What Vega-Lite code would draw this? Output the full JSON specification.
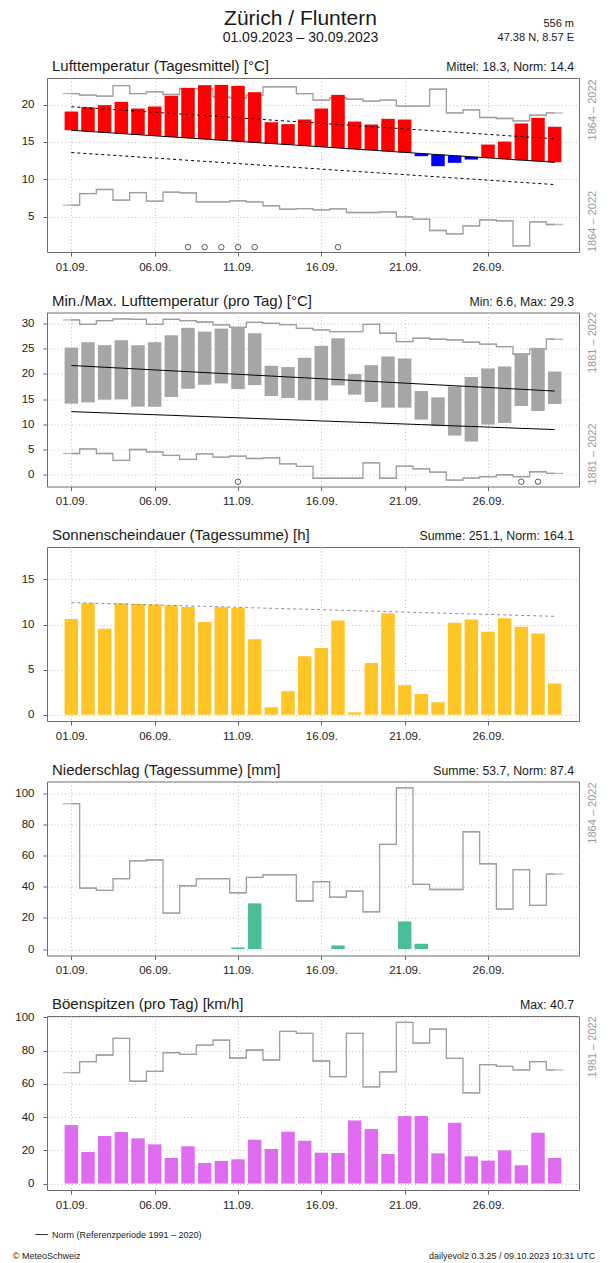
{
  "$schema": "https://vega.github.io/schema/vega-lite/v6.json",
  "autosize": {"type": "pad"},
  "padding": {"left": 12, "top": 7, "right": 3, "bottom": 2},
  "background": "white",
  "config": {
    "font": "Liberation Sans",
    "view": {"stroke": "#6e6e6e", "strokeWidth": 1},
    "axis": {"tickSize": 4, "tickColor": "#666666", "domain": false, "labelFontSize": 11.5, "labelColor": "#222222", "labelFont": "Liberation Sans", "gridColor": "#c4c4c4", "gridDash": [1, 2.5], "gridWidth": 1},
    "axisX": {"labelPadding": 5},
    "axisY": {"labelPadding": 9}
  },
  "datasets": {
    "days": [
      {"day": 1, "tmean": 19.06, "tnorm": 16.55, "thi": 19.70, "tlo": 13.57, "tmean_rmax": 21.47, "tmean_rmin": 6.52, "rec_mean": 0, "tmax": 25.2, "tmin": 14.08, "tmax_norm": 21.64, "tmin_norm": 12.50, "tmax_rmax": 30.66, "tmin_rmin": 4.21, "rec_max": 0, "sun": 10.61, "sun_max": 12.43, "precip": 0, "precip_rmax": 93.2, "gust": 35.2, "gust_rmax": 66.8},
      {"day": 2, "tmean": 19.64, "tnorm": 16.40, "thi": 19.55, "tlo": 13.42, "tmean_rmax": 21.25, "tmean_rmin": 8.08, "rec_mean": 0, "tmax": 26.25, "tmin": 14.34, "tmax_norm": 21.47, "tmin_norm": 12.38, "tmax_rmax": 29.8, "tmin_rmin": 5.13, "rec_max": 0, "sun": 12.36, "sun_max": 12.38, "precip": 0, "precip_rmax": 39.1, "gust": 19.0, "gust_rmax": 73.4},
      {"day": 3, "tmean": 19.91, "tnorm": 16.25, "thi": 19.40, "tlo": 13.27, "tmean_rmax": 21.12, "tmean_rmin": 8.62, "rec_mean": 0, "tmax": 25.66, "tmin": 14.87, "tmax_norm": 21.29, "tmin_norm": 12.26, "tmax_rmax": 30.53, "tmin_rmin": 4.21, "rec_max": 0, "sun": 9.53, "sun_max": 12.33, "precip": 0, "precip_rmax": 37.6, "gust": 28.6, "gust_rmax": 77.4},
      {"day": 4, "tmean": 20.36, "tnorm": 16.11, "thi": 19.26, "tlo": 13.13, "tmean_rmax": 22.54, "tmean_rmin": 7.19, "rec_mean": 0, "tmax": 26.64, "tmin": 14.93, "tmax_norm": 21.12, "tmin_norm": 12.13, "tmax_rmax": 30.86, "tmin_rmin": 2.83, "rec_max": 0, "sun": 12.36, "sun_max": 12.27, "precip": 0, "precip_rmax": 45.1, "gust": 31.0, "gust_rmax": 87.4},
      {"day": 5, "tmean": 19.46, "tnorm": 15.96, "thi": 19.11, "tlo": 12.98, "tmean_rmax": 21.47, "tmean_rmin": 8.21, "rec_mean": 0, "tmax": 25.66, "tmin": 13.49, "tmax_norm": 20.94, "tmin_norm": 12.01, "tmax_rmax": 30.79, "tmin_rmin": 5.0, "rec_max": 0, "sun": 12.29, "sun_max": 12.22, "precip": 0, "precip_rmax": 56.6, "gust": 27.2, "gust_rmax": 61.6},
      {"day": 6, "tmean": 19.73, "tnorm": 15.81, "thi": 18.96, "tlo": 12.83, "tmean_rmax": 21.70, "tmean_rmin": 7.05, "rec_mean": 0, "tmax": 26.25, "tmin": 13.49, "tmax_norm": 20.77, "tmin_norm": 11.89, "tmax_rmax": 29.8, "tmin_rmin": 4.54, "rec_max": 0, "sun": 12.21, "sun_max": 12.17, "precip": 0, "precip_rmax": 57.1, "gust": 23.6, "gust_rmax": 67.6},
      {"day": 7, "tmean": 21.16, "tnorm": 15.66, "thi": 18.81, "tlo": 12.68, "tmean_rmax": 21.34, "tmean_rmin": 8.26, "rec_mean": 0, "tmax": 27.63, "tmin": 15.39, "tmax_norm": 20.59, "tmin_norm": 11.77, "tmax_rmax": 30.79, "tmin_rmin": 3.82, "rec_max": 0, "sun": 12.10, "sun_max": 12.12, "precip": 0, "precip_rmax": 23.1, "gust": 15.4, "gust_rmax": 78.8},
      {"day": 8, "tmean": 22.23, "tnorm": 15.51, "thi": 18.66, "tlo": 12.53, "tmean_rmax": 22.14, "tmean_rmin": 8.17, "rec_mean": 1, "tmax": 29.1, "tmin": 17.04, "tmax_norm": 20.42, "tmin_norm": 11.64, "tmax_rmax": 30.53, "tmin_rmin": 3.03, "rec_max": 0, "sun": 11.95, "sun_max": 12.06, "precip": 0, "precip_rmax": 40.6, "gust": 22.4, "gust_rmax": 77.8},
      {"day": 9, "tmean": 22.59, "tnorm": 15.37, "thi": 18.52, "tlo": 12.39, "tmean_rmax": 22.14, "tmean_rmin": 6.96, "rec_mean": 1, "tmax": 28.36, "tmin": 17.83, "tmax_norm": 20.24, "tmin_norm": 11.52, "tmax_rmax": 30.26, "tmin_rmin": 4.14, "rec_max": 0, "sun": 10.28, "sun_max": 12.01, "precip": 0, "precip_rmax": 45.1, "gust": 12.4, "gust_rmax": 83.4},
      {"day": 10, "tmean": 22.63, "tnorm": 15.22, "thi": 18.37, "tlo": 12.24, "tmean_rmax": 21.03, "tmean_rmin": 6.96, "rec_mean": 1, "tmax": 28.95, "tmin": 18.09, "tmax_norm": 20.07, "tmin_norm": 11.40, "tmax_rmax": 29.7, "tmin_rmin": 3.49, "rec_max": 0, "sun": 11.91, "sun_max": 11.96, "precip": 0, "precip_rmax": 45.1, "gust": 13.6, "gust_rmax": 86.4},
      {"day": 11, "tmean": 22.5, "tnorm": 15.07, "thi": 18.22, "tlo": 12.09, "tmean_rmax": 20.85, "tmean_rmin": 7.10, "rec_mean": 1, "tmax": 29.3, "tmin": 16.97, "tmax_norm": 19.90, "tmin_norm": 11.28, "tmax_rmax": 29.2, "tmin_rmin": 3.68, "rec_max": 1, "sun": 11.84, "sun_max": 11.91, "precip": 1.0, "precip_rmax": 36.1, "gust": 14.6, "gust_rmax": 75.6},
      {"day": 12, "tmean": 21.65, "tnorm": 14.92, "thi": 18.07, "tlo": 11.94, "tmean_rmax": 21.25, "tmean_rmin": 6.96, "rec_mean": 1, "tmax": 28.03, "tmin": 17.76, "tmax_norm": 19.72, "tmin_norm": 11.15, "tmax_rmax": 30.2, "tmin_rmin": 3.22, "rec_max": 0, "sun": 8.38, "sun_max": 11.85, "precip": 29.3, "precip_rmax": 45.9, "gust": 26.4, "gust_rmax": 80.4},
      {"day": 13, "tmean": 17.63, "tnorm": 14.77, "thi": 17.92, "tlo": 11.79, "tmean_rmax": 22.37, "tmean_rmin": 6.43, "rec_mean": 0, "tmax": 21.58, "tmin": 15.59, "tmax_norm": 19.55, "tmin_norm": 11.03, "tmax_rmax": 30.0, "tmin_rmin": 3.36, "rec_max": 0, "sun": 0.82, "sun_max": 11.80, "precip": 0, "precip_rmax": 47.6, "gust": 20.8, "gust_rmax": 74.4},
      {"day": 14, "tmean": 17.37, "tnorm": 14.63, "thi": 17.78, "tlo": 11.65, "tmean_rmax": 22.37, "tmean_rmin": 5.98, "rec_mean": 0, "tmax": 21.32, "tmin": 15.2, "tmax_norm": 19.37, "tmin_norm": 10.91, "tmax_rmax": 29.74, "tmin_rmin": 2.17, "rec_max": 0, "sun": 2.61, "sun_max": 11.75, "precip": 0, "precip_rmax": 47.6, "gust": 31.2, "gust_rmax": 91.6},
      {"day": 15, "tmean": 17.99, "tnorm": 14.48, "thi": 17.63, "tlo": 11.50, "tmean_rmax": 21.47, "tmean_rmin": 6.07, "rec_mean": 0, "tmax": 23.16, "tmin": 14.74, "tmax_norm": 19.20, "tmin_norm": 10.79, "tmax_rmax": 29.0, "tmin_rmin": 1.65, "rec_max": 0, "sun": 6.48, "sun_max": 11.70, "precip": 0, "precip_rmax": 30.8, "gust": 25.8, "gust_rmax": 90.4},
      {"day": 16, "tmean": 19.46, "tnorm": 14.33, "thi": 17.48, "tlo": 11.35, "tmean_rmax": 20.58, "tmean_rmin": 5.89, "rec_mean": 0, "tmax": 25.53, "tmin": 14.74, "tmax_norm": 19.02, "tmin_norm": 10.66, "tmax_rmax": 28.7, "tmin_rmin": -0.7, "rec_max": 0, "sun": 7.41, "sun_max": 11.64, "precip": 0, "precip_rmax": 43.2, "gust": 18.6, "gust_rmax": 73.8},
      {"day": 17, "tmean": 21.29, "tnorm": 14.18, "thi": 17.33, "tlo": 11.20, "tmean_rmax": 20.9, "tmean_rmin": 6.03, "rec_mean": 1, "tmax": 27.04, "tmin": 17.7, "tmax_norm": 18.85, "tmin_norm": 10.54, "tmax_rmax": 28.36, "tmin_rmin": -0.7, "rec_max": 0, "sun": 10.46, "sun_max": 11.59, "precip": 2.3, "precip_rmax": 33.3, "gust": 18.4, "gust_rmax": 64.4},
      {"day": 18, "tmean": 17.72, "tnorm": 14.03, "thi": 17.18, "tlo": 11.05, "tmean_rmax": 20.71, "tmean_rmin": 5.54, "rec_mean": 0, "tmax": 19.93, "tmin": 15.86, "tmax_norm": 18.67, "tmin_norm": 10.42, "tmax_rmax": 28.36, "tmin_rmin": -0.7, "rec_max": 0, "sun": 0.26, "sun_max": 11.54, "precip": 0, "precip_rmax": 37.2, "gust": 38.0, "gust_rmax": 90.4},
      {"day": 19, "tmean": 17.32, "tnorm": 13.89, "thi": 17.04, "tlo": 10.91, "tmean_rmax": 20.45, "tmean_rmin": 5.54, "rec_mean": 0, "tmax": 21.71, "tmin": 14.41, "tmax_norm": 18.50, "tmin_norm": 10.30, "tmax_rmax": 29.8, "tmin_rmin": 2.37, "rec_max": 0, "sun": 5.73, "sun_max": 11.49, "precip": 0, "precip_rmax": 23.9, "gust": 32.8, "gust_rmax": 58.2},
      {"day": 20, "tmean": 18.08, "tnorm": 13.74, "thi": 16.89, "tlo": 10.76, "tmean_rmax": 20.58, "tmean_rmin": 5.63, "rec_mean": 0, "tmax": 23.42, "tmin": 13.29, "tmax_norm": 18.32, "tmin_norm": 10.17, "tmax_rmax": 28.03, "tmin_rmin": -0.7, "rec_max": 0, "sun": 11.24, "sun_max": 11.43, "precip": 0, "precip_rmax": 67.1, "gust": 17.8, "gust_rmax": 67.2},
      {"day": 21, "tmean": 17.99, "tnorm": 13.59, "thi": 16.74, "tlo": 10.61, "tmean_rmax": 19.78, "tmean_rmin": 4.96, "rec_mean": 0, "tmax": 23.03, "tmin": 13.29, "tmax_norm": 18.15, "tmin_norm": 10.05, "tmax_rmax": 26.38, "tmin_rmin": 1.71, "rec_max": 0, "sun": 3.28, "sun_max": 11.38, "precip": 17.7, "precip_rmax": 103.4, "gust": 40.6, "gust_rmax": 97.0},
      {"day": 22, "tmean": 13.08, "tnorm": 13.44, "thi": 16.59, "tlo": 10.46, "tmean_rmax": 19.78, "tmean_rmin": 4.64, "rec_mean": 0, "tmax": 16.58, "tmin": 10.92, "tmax_norm": 17.97, "tmin_norm": 9.93, "tmax_rmax": 27.04, "tmin_rmin": 1.18, "rec_max": 0, "sun": 2.31, "sun_max": 11.33, "precip": 3.4, "precip_rmax": 41.5, "gust": 40.7, "gust_rmax": 84.6},
      {"day": 23, "tmean": 11.74, "tnorm": 13.29, "thi": 16.44, "tlo": 10.31, "tmean_rmax": 22.05, "tmean_rmin": 3.13, "rec_mean": 0, "tmax": 15.33, "tmin": 9.61, "tmax_norm": 17.80, "tmin_norm": 9.81, "tmax_rmax": 26.84, "tmin_rmin": 0.53, "rec_max": 0, "sun": 1.38, "sun_max": 11.28, "precip": 0, "precip_rmax": 38.2, "gust": 18.2, "gust_rmax": 93.0},
      {"day": 24, "tmean": 12.19, "tnorm": 13.15, "thi": 16.30, "tlo": 10.17, "tmean_rmax": 18.88, "tmean_rmin": 2.68, "rec_mean": 0, "tmax": 17.5, "tmin": 7.76, "tmax_norm": 17.63, "tmin_norm": 9.68, "tmax_rmax": 26.71, "tmin_rmin": -1.05, "rec_max": 0, "sun": 10.20, "sun_max": 11.22, "precip": 0, "precip_rmax": 38.2, "gust": 36.6, "gust_rmax": 75.4},
      {"day": 25, "tmean": 12.63, "tnorm": 13.00, "thi": 16.15, "tlo": 10.02, "tmean_rmax": 19.29, "tmean_rmin": 3.75, "rec_mean": 0, "tmax": 19.34, "tmin": 6.6, "tmax_norm": 17.45, "tmin_norm": 9.56, "tmax_rmax": 26.25, "tmin_rmin": -0.66, "rec_max": 0, "sun": 10.57, "sun_max": 11.17, "precip": 0, "precip_rmax": 75.2, "gust": 16.4, "gust_rmax": 54.6},
      {"day": 26, "tmean": 14.64, "tnorm": 12.85, "thi": 16.00, "tlo": 9.87, "tmean_rmax": 18.26, "tmean_rmin": 4.55, "rec_mean": 0, "tmax": 21.05, "tmin": 9.93, "tmax_norm": 17.28, "tmin_norm": 9.44, "tmax_rmax": 25.86, "tmin_rmin": -0.39, "rec_max": 0, "sun": 9.20, "sun_max": 11.12, "precip": 0, "precip_rmax": 54.7, "gust": 13.8, "gust_rmax": 71.6},
      {"day": 27, "tmean": 15.04, "tnorm": 12.70, "thi": 15.85, "tlo": 9.72, "tmean_rmax": 18.13, "tmean_rmin": 4.42, "rec_mean": 0, "tmax": 21.45, "tmin": 10.26, "tmax_norm": 17.10, "tmin_norm": 9.32, "tmax_rmax": 25.39, "tmin_rmin": 0.0, "rec_max": 0, "sun": 10.69, "sun_max": 11.07, "precip": 0, "precip_rmax": 25.6, "gust": 20.0, "gust_rmax": 70.6},
      {"day": 28, "tmean": 17.46, "tnorm": 12.55, "thi": 15.70, "tlo": 9.57, "tmean_rmax": 17.81, "tmean_rmin": 1.07, "rec_mean": 0, "tmax": 24.08, "tmin": 13.62, "tmax_norm": 16.93, "tmin_norm": 9.19, "tmax_rmax": 23.88, "tmin_rmin": -0.39, "rec_max": 1, "sun": 9.75, "sun_max": 11.01, "precip": 0, "precip_rmax": 50.9, "gust": 11.0, "gust_rmax": 68.4},
      {"day": 29, "tmean": 18.21, "tnorm": 12.41, "thi": 15.56, "tlo": 9.43, "tmean_rmax": 18.57, "tmean_rmin": 4.29, "rec_mean": 0, "tmax": 25.13, "tmin": 12.63, "tmax_norm": 16.75, "tmin_norm": 9.07, "tmax_rmax": 24.87, "tmin_rmin": 0.59, "rec_max": 1, "sun": 9.01, "sun_max": 10.96, "precip": 0, "precip_rmax": 28.0, "gust": 30.6, "gust_rmax": 73.4},
      {"day": 30, "tmean": 17.01, "tnorm": 12.26, "thi": 15.41, "tlo": 9.28, "tmean_rmax": 18.88, "tmean_rmin": 3.93, "rec_mean": 0, "tmax": 20.46, "tmin": 14.01, "tmax_norm": 16.58, "tmin_norm": 8.95, "tmax_rmax": 26.84, "tmin_rmin": 0.26, "rec_max": 0, "sun": 3.46, "sun_max": 10.91, "precip": 0, "precip_rmax": 48.1, "gust": 15.4, "gust_rmax": 68.4}
    ]
  },
  "data": {"name": "days"},
  "spacing": 60.5,
  "bounds": "flush",
  "vconcat": [
    {
      "width": 532, "height": 174,
      "encoding": {
        "x": {"field": "day", "type": "quantitative", "title": null, "scale": {"domain": [-0.16, 31.16], "nice": false, "zero": false}, "axis": {"values": [1, 6, 11, 16, 21, 26], "labelExpr": "(datum.value < 10 ? '0' : '') + datum.value + '.09.'"}},
        "y": {"field": "tmean_rmax", "type": "quantitative", "title": null, "scale": {"domain": [0.25, 23.55], "nice": false, "zero": false}, "axis": {"values": [5, 10, 15, 20]}}
      },
      "layer": [
        {"mark": {"type": "line", "interpolate": "step", "color": "#9e9e9e", "strokeWidth": 1.3}},
        {"mark": {"type": "tick", "orient": "horizontal", "size": 17, "thickness": 1.3, "color": "#9e9e9e"}},
        {"mark": {"type": "line", "interpolate": "step", "color": "#9e9e9e", "strokeWidth": 1.3}, "encoding": {"y": {"field": "tmean_rmin", "type": "quantitative", "title": null, "scale": {"domain": [0.25, 23.55], "nice": false, "zero": false}, "axis": {"values": [5, 10, 15, 20]}}}},
        {"mark": {"type": "tick", "orient": "horizontal", "size": 17, "thickness": 1.3, "color": "#9e9e9e"}, "encoding": {"y": {"field": "tmean_rmin", "type": "quantitative", "title": null, "scale": {"domain": [0.25, 23.55], "nice": false, "zero": false}, "axis": {"values": [5, 10, 15, 20]}}}},
        {"mark": {"type": "bar", "width": 13.5, "orient": "vertical"},
         "encoding": {"y": {"field": "tmean", "type": "quantitative", "title": null, "scale": {"domain": [0.25, 23.55], "nice": false, "zero": false}, "axis": {"values": [5, 10, 15, 20]}},
                      "y2": {"field": "tnorm"},
                      "color": {"condition": {"test": "datum.tmean >= datum.tnorm", "value": "#ff0000"}, "value": "#0000ff"}}},
        {"mark": {"type": "line", "color": "#000000", "strokeWidth": 1}, "encoding": {"y": {"field": "tnorm", "type": "quantitative", "title": null, "scale": {"domain": [0.25, 23.55], "nice": false, "zero": false}, "axis": {"values": [5, 10, 15, 20]}}}},
        {"mark": {"type": "line", "color": "#000000", "strokeWidth": 1, "strokeDash": [3, 3]}, "encoding": {"y": {"field": "thi", "type": "quantitative", "title": null, "scale": {"domain": [0.25, 23.55], "nice": false, "zero": false}, "axis": {"values": [5, 10, 15, 20]}}}},
        {"mark": {"type": "line", "color": "#000000", "strokeWidth": 1, "strokeDash": [3, 3]}, "encoding": {"y": {"field": "tlo", "type": "quantitative", "title": null, "scale": {"domain": [0.25, 23.55], "nice": false, "zero": false}, "axis": {"values": [5, 10, 15, 20]}}}},
        {"transform": [{"filter": "datum.rec_mean == 1"}],
         "mark": {"type": "point", "shape": "circle", "filled": false, "size": 30, "color": "#000000", "strokeWidth": 0.9},
         "encoding": {"y": {"datum": 0.9, "type": "quantitative", "title": null, "scale": {"domain": [0.25, 23.55], "nice": false, "zero": false}, "axis": {"values": [5, 10, 15, 20]}}}},
        {"transform": [{"filter": "datum.day == 1"}],
         "mark": {"type": "text", "align": "center", "baseline": "alphabetic", "dy": -53.5, "fontSize": 21, "color": "#1a1a1a", "font": "Liberation Sans"},
         "encoding": {"text": {"value": "Zürich / Fluntern"}, "x": {"datum": 14.75, "type": "quantitative", "title": null, "scale": {"domain": [-0.16, 31.16], "nice": false, "zero": false}, "axis": {"values": [1, 6, 11, 16, 21, 26], "labelExpr": "(datum.value < 10 ? '0' : '') + datum.value + '.09.'"}}, "y": {"datum": 23.55, "type": "quantitative", "title": null, "scale": {"domain": [0.25, 23.55], "nice": false, "zero": false}, "axis": {"values": [5, 10, 15, 20]}}}},
        {"transform": [{"filter": "datum.day == 1"}],
         "mark": {"type": "text", "align": "center", "baseline": "alphabetic", "dy": -36.5, "fontSize": 14, "color": "#1a1a1a", "font": "Liberation Sans"},
         "encoding": {"text": {"value": "01.09.2023 – 30.09.2023"}, "x": {"datum": 14.75, "type": "quantitative", "title": null, "scale": {"domain": [-0.16, 31.16], "nice": false, "zero": false}, "axis": {"values": [1, 6, 11, 16, 21, 26], "labelExpr": "(datum.value < 10 ? '0' : '') + datum.value + '.09.'"}}, "y": {"datum": 23.55, "type": "quantitative", "title": null, "scale": {"domain": [0.25, 23.55], "nice": false, "zero": false}, "axis": {"values": [5, 10, 15, 20]}}}},
        {"transform": [{"filter": "datum.day == 1"}],
         "mark": {"type": "text", "align": "right", "baseline": "alphabetic", "dy": -51.5, "fontSize": 11, "color": "#1a1a1a", "font": "Liberation Sans"},
         "encoding": {"text": {"value": "556 m"}, "x": {"datum": 31.16, "type": "quantitative", "title": null, "scale": {"domain": [-0.16, 31.16], "nice": false, "zero": false}, "axis": {"values": [1, 6, 11, 16, 21, 26], "labelExpr": "(datum.value < 10 ? '0' : '') + datum.value + '.09.'"}}, "y": {"datum": 23.55, "type": "quantitative", "title": null, "scale": {"domain": [0.25, 23.55], "nice": false, "zero": false}, "axis": {"values": [5, 10, 15, 20]}}}},
        {"transform": [{"filter": "datum.day == 1"}],
         "mark": {"type": "text", "align": "right", "baseline": "alphabetic", "dy": -37.5, "fontSize": 11, "color": "#1a1a1a", "font": "Liberation Sans"},
         "encoding": {"text": {"value": "47.38 N, 8.57 E"}, "x": {"datum": 31.16, "type": "quantitative", "title": null, "scale": {"domain": [-0.16, 31.16], "nice": false, "zero": false}, "axis": {"values": [1, 6, 11, 16, 21, 26], "labelExpr": "(datum.value < 10 ? '0' : '') + datum.value + '.09.'"}}, "y": {"datum": 23.55, "type": "quantitative", "title": null, "scale": {"domain": [0.25, 23.55], "nice": false, "zero": false}, "axis": {"values": [5, 10, 15, 20]}}}},
        {"transform": [{"filter": "datum.day == 1"}],
         "mark": {"type": "text", "align": "left", "baseline": "alphabetic", "dy": -7, "fontSize": 15, "color": "#1a1a1a", "font": "Liberation Sans"},
         "encoding": {"text": {"value": "Lufttemperatur (Tagesmittel) [°C]"}, "x": {"datum": -0.16, "type": "quantitative", "title": null, "scale": {"domain": [-0.16, 31.16], "nice": false, "zero": false}, "axis": {"values": [1, 6, 11, 16, 21, 26], "labelExpr": "(datum.value < 10 ? '0' : '') + datum.value + '.09.'"}}, "y": {"datum": 23.55, "type": "quantitative", "title": null, "scale": {"domain": [0.25, 23.55], "nice": false, "zero": false}, "axis": {"values": [5, 10, 15, 20]}}}},
        {"transform": [{"filter": "datum.day == 1"}],
         "mark": {"type": "text", "align": "right", "baseline": "alphabetic", "dy": -7, "fontSize": 12.3, "color": "#1a1a1a", "font": "Liberation Sans"},
         "encoding": {"text": {"value": "Mittel: 18.3, Norm: 14.4"}, "x": {"datum": 31.16, "type": "quantitative", "title": null, "scale": {"domain": [-0.16, 31.16], "nice": false, "zero": false}, "axis": {"values": [1, 6, 11, 16, 21, 26], "labelExpr": "(datum.value < 10 ? '0' : '') + datum.value + '.09.'"}}, "y": {"datum": 23.55, "type": "quantitative", "title": null, "scale": {"domain": [0.25, 23.55], "nice": false, "zero": false}, "axis": {"values": [5, 10, 15, 20]}}}},
        {"transform": [{"filter": "datum.day == 1"}],
         "mark": {"type": "text", "align": "center", "baseline": "middle", "angle": 270, "fontSize": 11, "color": "#9a9a9a", "font": "Liberation Sans"},
         "encoding": {"text": {"value": "1864 – 2022"}, "x": {"datum": 32.3, "type": "quantitative", "title": null, "scale": {"domain": [-0.16, 31.16], "nice": false, "zero": false}, "axis": {"values": [1, 6, 11, 16, 21, 26], "labelExpr": "(datum.value < 10 ? '0' : '') + datum.value + '.09.'"}}, "y": {"datum": 19.28, "type": "quantitative", "title": null, "scale": {"domain": [0.25, 23.55], "nice": false, "zero": false}, "axis": {"values": [5, 10, 15, 20]}}}},
        {"transform": [{"filter": "datum.day == 1"}],
         "mark": {"type": "text", "align": "center", "baseline": "middle", "angle": 270, "fontSize": 11, "color": "#9a9a9a", "font": "Liberation Sans"},
         "encoding": {"text": {"value": "1864 – 2022"}, "x": {"datum": 32.3, "type": "quantitative", "title": null, "scale": {"domain": [-0.16, 31.16], "nice": false, "zero": false}, "axis": {"values": [1, 6, 11, 16, 21, 26], "labelExpr": "(datum.value < 10 ? '0' : '') + datum.value + '.09.'"}}, "y": {"datum": 4.34, "type": "quantitative", "title": null, "scale": {"domain": [0.25, 23.55], "nice": false, "zero": false}, "axis": {"values": [5, 10, 15, 20]}}}}
      ]
    },
    {
      "width": 532, "height": 174,
      "encoding": {
        "x": {"field": "day", "type": "quantitative", "title": null, "scale": {"domain": [-0.16, 31.16], "nice": false, "zero": false}, "axis": {"values": [1, 6, 11, 16, 21, 26], "labelExpr": "(datum.value < 10 ? '0' : '') + datum.value + '.09.'"}},
        "y": {"field": "tmax_rmax", "type": "quantitative", "title": null, "scale": {"domain": [-2.33, 32.14], "nice": false, "zero": false}, "axis": {"values": [0, 5, 10, 15, 20, 25, 30]}}
      },
      "layer": [
        {"mark": {"type": "line", "interpolate": "step", "color": "#9e9e9e", "strokeWidth": 1.3}},
        {"mark": {"type": "tick", "orient": "horizontal", "size": 17, "thickness": 1.3, "color": "#9e9e9e"}},
        {"mark": {"type": "line", "interpolate": "step", "color": "#9e9e9e", "strokeWidth": 1.3}, "encoding": {"y": {"field": "tmin_rmin", "type": "quantitative", "title": null, "scale": {"domain": [-2.33, 32.14], "nice": false, "zero": false}, "axis": {"values": [0, 5, 10, 15, 20, 25, 30]}}}},
        {"mark": {"type": "tick", "orient": "horizontal", "size": 17, "thickness": 1.3, "color": "#9e9e9e"}, "encoding": {"y": {"field": "tmin_rmin", "type": "quantitative", "title": null, "scale": {"domain": [-2.33, 32.14], "nice": false, "zero": false}, "axis": {"values": [0, 5, 10, 15, 20, 25, 30]}}}},
        {"mark": {"type": "bar", "width": 13.5, "orient": "vertical", "color": "#a6a6a6"},
         "encoding": {"y": {"field": "tmax", "type": "quantitative", "title": null, "scale": {"domain": [-2.33, 32.14], "nice": false, "zero": false}, "axis": {"values": [0, 5, 10, 15, 20, 25, 30]}}, "y2": {"field": "tmin"}}},
        {"mark": {"type": "line", "color": "#000000", "strokeWidth": 1}, "encoding": {"y": {"field": "tmax_norm", "type": "quantitative", "title": null, "scale": {"domain": [-2.33, 32.14], "nice": false, "zero": false}, "axis": {"values": [0, 5, 10, 15, 20, 25, 30]}}}},
        {"mark": {"type": "line", "color": "#000000", "strokeWidth": 1}, "encoding": {"y": {"field": "tmin_norm", "type": "quantitative", "title": null, "scale": {"domain": [-2.33, 32.14], "nice": false, "zero": false}, "axis": {"values": [0, 5, 10, 15, 20, 25, 30]}}}},
        {"transform": [{"filter": "datum.rec_max == 1"}],
         "mark": {"type": "point", "shape": "circle", "filled": false, "size": 30, "color": "#000000", "strokeWidth": 0.9},
         "encoding": {"y": {"datum": -1.38, "type": "quantitative", "title": null, "scale": {"domain": [-2.33, 32.14], "nice": false, "zero": false}, "axis": {"values": [0, 5, 10, 15, 20, 25, 30]}}}},
        {"transform": [{"filter": "datum.day == 1"}],
         "mark": {"type": "text", "align": "left", "baseline": "alphabetic", "dy": -7, "fontSize": 15, "color": "#1a1a1a", "font": "Liberation Sans"},
         "encoding": {"text": {"value": "Min./Max. Lufttemperatur (pro Tag) [°C]"}, "x": {"datum": -0.16, "type": "quantitative", "title": null, "scale": {"domain": [-0.16, 31.16], "nice": false, "zero": false}, "axis": {"values": [1, 6, 11, 16, 21, 26], "labelExpr": "(datum.value < 10 ? '0' : '') + datum.value + '.09.'"}}, "y": {"datum": 32.14, "type": "quantitative", "title": null, "scale": {"domain": [-2.33, 32.14], "nice": false, "zero": false}, "axis": {"values": [0, 5, 10, 15, 20, 25, 30]}}}},
        {"transform": [{"filter": "datum.day == 1"}],
         "mark": {"type": "text", "align": "right", "baseline": "alphabetic", "dy": -7, "fontSize": 12.3, "color": "#1a1a1a", "font": "Liberation Sans"},
         "encoding": {"text": {"value": "Min: 6.6, Max: 29.3"}, "x": {"datum": 31.16, "type": "quantitative", "title": null, "scale": {"domain": [-0.16, 31.16], "nice": false, "zero": false}, "axis": {"values": [1, 6, 11, 16, 21, 26], "labelExpr": "(datum.value < 10 ? '0' : '') + datum.value + '.09.'"}}, "y": {"datum": 32.14, "type": "quantitative", "title": null, "scale": {"domain": [-2.33, 32.14], "nice": false, "zero": false}, "axis": {"values": [0, 5, 10, 15, 20, 25, 30]}}}},
        {"transform": [{"filter": "datum.day == 1"}],
         "mark": {"type": "text", "align": "center", "baseline": "middle", "angle": 270, "fontSize": 11, "color": "#9a9a9a", "font": "Liberation Sans"},
         "encoding": {"text": {"value": "1881 – 2022"}, "x": {"datum": 32.3, "type": "quantitative", "title": null, "scale": {"domain": [-0.16, 31.16], "nice": false, "zero": false}, "axis": {"values": [1, 6, 11, 16, 21, 26], "labelExpr": "(datum.value < 10 ? '0' : '') + datum.value + '.09.'"}}, "y": {"datum": 26.2, "type": "quantitative", "title": null, "scale": {"domain": [-2.33, 32.14], "nice": false, "zero": false}, "axis": {"values": [0, 5, 10, 15, 20, 25, 30]}}}},
        {"transform": [{"filter": "datum.day == 1"}],
         "mark": {"type": "text", "align": "center", "baseline": "middle", "angle": 270, "fontSize": 11, "color": "#9a9a9a", "font": "Liberation Sans"},
         "encoding": {"text": {"value": "1881 – 2022"}, "x": {"datum": 32.3, "type": "quantitative", "title": null, "scale": {"domain": [-0.16, 31.16], "nice": false, "zero": false}, "axis": {"values": [1, 6, 11, 16, 21, 26], "labelExpr": "(datum.value < 10 ? '0' : '') + datum.value + '.09.'"}}, "y": {"datum": 4.11, "type": "quantitative", "title": null, "scale": {"domain": [-2.33, 32.14], "nice": false, "zero": false}, "axis": {"values": [0, 5, 10, 15, 20, 25, 30]}}}}
      ]
    },
    {
      "width": 532, "height": 174,
      "encoding": {
        "x": {"field": "day", "type": "quantitative", "title": null, "scale": {"domain": [-0.16, 31.16], "nice": false, "zero": false}, "axis": {"values": [1, 6, 11, 16, 21, 26], "labelExpr": "(datum.value < 10 ? '0' : '') + datum.value + '.09.'"}},
        "y": {"field": "sun", "type": "quantitative", "title": null, "scale": {"domain": [-0.7, 18.6], "nice": false, "zero": false}, "axis": {"values": [0, 5, 10, 15]}}
      },
      "layer": [
        {"mark": {"type": "bar", "width": 13.5, "orient": "vertical", "color": "#ffc425"}, "encoding": {"y2": {"datum": 0}}},
        {"mark": {"type": "line", "color": "#8c8c8c", "strokeWidth": 1, "strokeDash": [3, 3]}, "encoding": {"y": {"field": "sun_max", "type": "quantitative", "title": null, "scale": {"domain": [-0.7, 18.6], "nice": false, "zero": false}, "axis": {"values": [0, 5, 10, 15]}}}},
        {"transform": [{"filter": "datum.day == 1"}],
         "mark": {"type": "text", "align": "left", "baseline": "alphabetic", "dy": -7, "fontSize": 15, "color": "#1a1a1a", "font": "Liberation Sans"},
         "encoding": {"text": {"value": "Sonnenscheindauer (Tagessumme) [h]"}, "x": {"datum": -0.16, "type": "quantitative", "title": null, "scale": {"domain": [-0.16, 31.16], "nice": false, "zero": false}, "axis": {"values": [1, 6, 11, 16, 21, 26], "labelExpr": "(datum.value < 10 ? '0' : '') + datum.value + '.09.'"}}, "y": {"datum": 18.6, "type": "quantitative", "title": null, "scale": {"domain": [-0.7, 18.6], "nice": false, "zero": false}, "axis": {"values": [0, 5, 10, 15]}}}},
        {"transform": [{"filter": "datum.day == 1"}],
         "mark": {"type": "text", "align": "right", "baseline": "alphabetic", "dy": -7, "fontSize": 12.3, "color": "#1a1a1a", "font": "Liberation Sans"},
         "encoding": {"text": {"value": "Summe: 251.1, Norm: 164.1"}, "x": {"datum": 31.16, "type": "quantitative", "title": null, "scale": {"domain": [-0.16, 31.16], "nice": false, "zero": false}, "axis": {"values": [1, 6, 11, 16, 21, 26], "labelExpr": "(datum.value < 10 ? '0' : '') + datum.value + '.09.'"}}, "y": {"datum": 18.6, "type": "quantitative", "title": null, "scale": {"domain": [-0.7, 18.6], "nice": false, "zero": false}, "axis": {"values": [0, 5, 10, 15]}}}}
      ]
    },
    {
      "width": 532, "height": 174,
      "encoding": {
        "x": {"field": "day", "type": "quantitative", "title": null, "scale": {"domain": [-0.16, 31.16], "nice": false, "zero": false}, "axis": {"values": [1, 6, 11, 16, 21, 26], "labelExpr": "(datum.value < 10 ? '0' : '') + datum.value + '.09.'"}},
        "y": {"field": "precip_rmax", "type": "quantitative", "title": null, "scale": {"domain": [-4.13, 107.43], "nice": false, "zero": false}, "axis": {"values": [0, 20, 40, 60, 80, 100]}}
      },
      "layer": [
        {"mark": {"type": "line", "interpolate": "step", "color": "#9e9e9e", "strokeWidth": 1.3}},
        {"mark": {"type": "tick", "orient": "horizontal", "size": 17, "thickness": 1.3, "color": "#9e9e9e"}},
        {"transform": [{"filter": "datum.precip > 0"}],
         "mark": {"type": "bar", "width": 13.5, "orient": "vertical", "color": "#4cbd9a"},
         "encoding": {"y": {"field": "precip", "type": "quantitative", "title": null, "scale": {"domain": [-4.13, 107.43], "nice": false, "zero": false}, "axis": {"values": [0, 20, 40, 60, 80, 100]}}, "y2": {"datum": 0}}},
        {"transform": [{"filter": "datum.day == 1"}],
         "mark": {"type": "text", "align": "left", "baseline": "alphabetic", "dy": -7, "fontSize": 15, "color": "#1a1a1a", "font": "Liberation Sans"},
         "encoding": {"text": {"value": "Niederschlag (Tagessumme) [mm]"}, "x": {"datum": -0.16, "type": "quantitative", "title": null, "scale": {"domain": [-0.16, 31.16], "nice": false, "zero": false}, "axis": {"values": [1, 6, 11, 16, 21, 26], "labelExpr": "(datum.value < 10 ? '0' : '') + datum.value + '.09.'"}}, "y": {"datum": 107.43, "type": "quantitative", "title": null, "scale": {"domain": [-4.13, 107.43], "nice": false, "zero": false}, "axis": {"values": [0, 20, 40, 60, 80, 100]}}}},
        {"transform": [{"filter": "datum.day == 1"}],
         "mark": {"type": "text", "align": "right", "baseline": "alphabetic", "dy": -7, "fontSize": 12.3, "color": "#1a1a1a", "font": "Liberation Sans"},
         "encoding": {"text": {"value": "Summe: 53.7, Norm: 87.4"}, "x": {"datum": 31.16, "type": "quantitative", "title": null, "scale": {"domain": [-0.16, 31.16], "nice": false, "zero": false}, "axis": {"values": [1, 6, 11, 16, 21, 26], "labelExpr": "(datum.value < 10 ? '0' : '') + datum.value + '.09.'"}}, "y": {"datum": 107.43, "type": "quantitative", "title": null, "scale": {"domain": [-4.13, 107.43], "nice": false, "zero": false}, "axis": {"values": [0, 20, 40, 60, 80, 100]}}}},
        {"transform": [{"filter": "datum.day == 1"}],
         "mark": {"type": "text", "align": "center", "baseline": "middle", "angle": 270, "fontSize": 11, "color": "#9a9a9a", "font": "Liberation Sans"},
         "encoding": {"text": {"value": "1864 – 2022"}, "x": {"datum": 32.3, "type": "quantitative", "title": null, "scale": {"domain": [-0.16, 31.16], "nice": false, "zero": false}, "axis": {"values": [1, 6, 11, 16, 21, 26], "labelExpr": "(datum.value < 10 ? '0' : '') + datum.value + '.09.'"}}, "y": {"datum": 87.2, "type": "quantitative", "title": null, "scale": {"domain": [-4.13, 107.43], "nice": false, "zero": false}, "axis": {"values": [0, 20, 40, 60, 80, 100]}}}}
      ]
    },
    {
      "width": 532, "height": 174,
      "encoding": {
        "x": {"field": "day", "type": "quantitative", "title": null, "scale": {"domain": [-0.16, 31.16], "nice": false, "zero": false}, "axis": {"values": [1, 6, 11, 16, 21, 26], "labelExpr": "(datum.value < 10 ? '0' : '') + datum.value + '.09.'"}},
        "y": {"field": "gust_rmax", "type": "quantitative", "title": null, "scale": {"domain": [-3.88, 100.88], "nice": false, "zero": false}, "axis": {"values": [0, 20, 40, 60, 80, 100]}}
      },
      "layer": [
        {"mark": {"type": "line", "interpolate": "step", "color": "#9e9e9e", "strokeWidth": 1.3}},
        {"mark": {"type": "tick", "orient": "horizontal", "size": 17, "thickness": 1.3, "color": "#9e9e9e"}},
        {"mark": {"type": "bar", "width": 13.5, "orient": "vertical", "color": "#df6cf0"},
         "encoding": {"y": {"field": "gust", "type": "quantitative", "title": null, "scale": {"domain": [-3.88, 100.88], "nice": false, "zero": false}, "axis": {"values": [0, 20, 40, 60, 80, 100]}}, "y2": {"datum": 0}}},
        {"transform": [{"filter": "datum.day == 1"}],
         "mark": {"type": "text", "align": "left", "baseline": "alphabetic", "dy": -7, "fontSize": 15, "color": "#1a1a1a", "font": "Liberation Sans"},
         "encoding": {"text": {"value": "Böenspitzen (pro Tag) [km/h]"}, "x": {"datum": -0.16, "type": "quantitative", "title": null, "scale": {"domain": [-0.16, 31.16], "nice": false, "zero": false}, "axis": {"values": [1, 6, 11, 16, 21, 26], "labelExpr": "(datum.value < 10 ? '0' : '') + datum.value + '.09.'"}}, "y": {"datum": 100.88, "type": "quantitative", "title": null, "scale": {"domain": [-3.88, 100.88], "nice": false, "zero": false}, "axis": {"values": [0, 20, 40, 60, 80, 100]}}}},
        {"transform": [{"filter": "datum.day == 1"}],
         "mark": {"type": "text", "align": "right", "baseline": "alphabetic", "dy": -7, "fontSize": 12.3, "color": "#1a1a1a", "font": "Liberation Sans"},
         "encoding": {"text": {"value": "Max: 40.7"}, "x": {"datum": 31.16, "type": "quantitative", "title": null, "scale": {"domain": [-0.16, 31.16], "nice": false, "zero": false}, "axis": {"values": [1, 6, 11, 16, 21, 26], "labelExpr": "(datum.value < 10 ? '0' : '') + datum.value + '.09.'"}}, "y": {"datum": 100.88, "type": "quantitative", "title": null, "scale": {"domain": [-3.88, 100.88], "nice": false, "zero": false}, "axis": {"values": [0, 20, 40, 60, 80, 100]}}}},
        {"transform": [{"filter": "datum.day == 1"}],
         "mark": {"type": "text", "align": "center", "baseline": "middle", "angle": 270, "fontSize": 11, "color": "#9a9a9a", "font": "Liberation Sans"},
         "encoding": {"text": {"value": "1981 – 2022"}, "x": {"datum": 32.3, "type": "quantitative", "title": null, "scale": {"domain": [-0.16, 31.16], "nice": false, "zero": false}, "axis": {"values": [1, 6, 11, 16, 21, 26], "labelExpr": "(datum.value < 10 ? '0' : '') + datum.value + '.09.'"}}, "y": {"datum": 82.3, "type": "quantitative", "title": null, "scale": {"domain": [-3.88, 100.88], "nice": false, "zero": false}, "axis": {"values": [0, 20, 40, 60, 80, 100]}}}},
        {"transform": [{"filter": "datum.day == 1"}],
         "mark": {"type": "rule", "color": "#333333", "strokeWidth": 1},
         "encoding": {"x": {"datum": -1.16, "type": "quantitative", "title": null, "scale": {"domain": [-0.16, 31.16], "nice": false, "zero": false}, "axis": {"values": [1, 6, 11, 16, 21, 26], "labelExpr": "(datum.value < 10 ? '0' : '') + datum.value + '.09.'"}}, "x2": {"datum": -0.39}, "y": {"datum": -30.7, "type": "quantitative", "title": null, "scale": {"domain": [-3.88, 100.88], "nice": false, "zero": false}, "axis": {"values": [0, 20, 40, 60, 80, 100]}}}},
        {"transform": [{"filter": "datum.day == 1"}],
         "mark": {"type": "text", "align": "left", "baseline": "middle", "dy": 44.5, "fontSize": 9, "color": "#1a1a1a", "font": "Liberation Sans"},
         "encoding": {"text": {"value": "Norm (Referenzperiode 1991 – 2020)"}, "x": {"datum": -0.16, "type": "quantitative", "title": null, "scale": {"domain": [-0.16, 31.16], "nice": false, "zero": false}, "axis": {"values": [1, 6, 11, 16, 21, 26], "labelExpr": "(datum.value < 10 ? '0' : '') + datum.value + '.09.'"}}, "y": {"datum": -3.88, "type": "quantitative", "title": null, "scale": {"domain": [-3.88, 100.88], "nice": false, "zero": false}, "axis": {"values": [0, 20, 40, 60, 80, 100]}}}},
        {"transform": [{"filter": "datum.day == 1"}],
         "mark": {"type": "text", "align": "left", "baseline": "alphabetic", "dy": 68.5, "fontSize": 9, "color": "#1a1a1a", "font": "Liberation Sans"},
         "encoding": {"text": {"value": "© MeteoSchweiz"}, "x": {"datum": -2.51, "type": "quantitative", "title": null, "scale": {"domain": [-0.16, 31.16], "nice": false, "zero": false}, "axis": {"values": [1, 6, 11, 16, 21, 26], "labelExpr": "(datum.value < 10 ? '0' : '') + datum.value + '.09.'"}}, "y": {"datum": -3.88, "type": "quantitative", "title": null, "scale": {"domain": [-3.88, 100.88], "nice": false, "zero": false}, "axis": {"values": [0, 20, 40, 60, 80, 100]}}}},
        {"transform": [{"filter": "datum.day == 1"}],
         "mark": {"type": "text", "align": "right", "baseline": "alphabetic", "dy": 68.5, "fontSize": 9, "color": "#1a1a1a", "font": "Liberation Sans"},
         "encoding": {"text": {"value": "dailyevol2 0.3.25 / 09.10.2023 10:31 UTC"}, "x": {"datum": 32.43, "type": "quantitative", "title": null, "scale": {"domain": [-0.16, 31.16], "nice": false, "zero": false}, "axis": {"values": [1, 6, 11, 16, 21, 26], "labelExpr": "(datum.value < 10 ? '0' : '') + datum.value + '.09.'"}}, "y": {"datum": -3.88, "type": "quantitative", "title": null, "scale": {"domain": [-3.88, 100.88], "nice": false, "zero": false}, "axis": {"values": [0, 20, 40, 60, 80, 100]}}}}
      ]
    }
  ]
}
